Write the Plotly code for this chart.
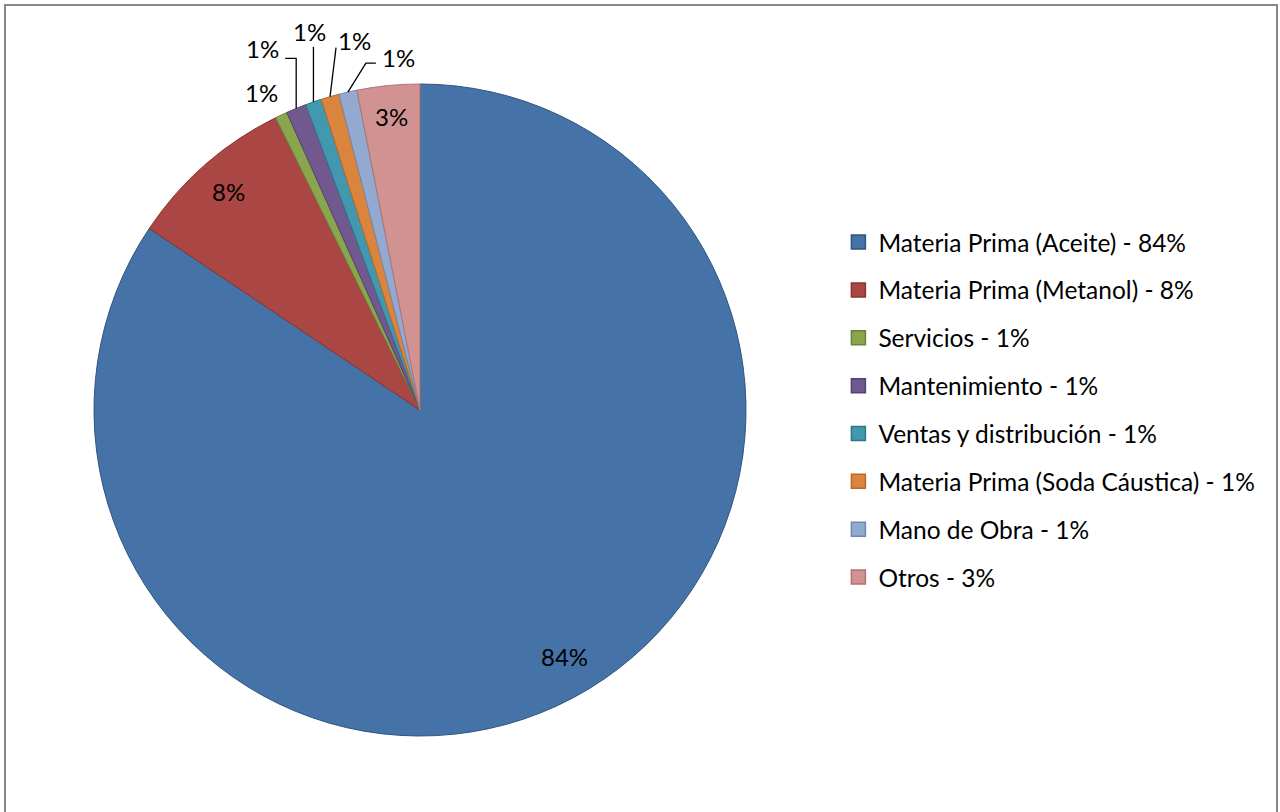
import math
import plotly.graph_objects as go

categories = ["Materia Prima (Aceite)", "Materia Prima (Metanol)", "Servicios",
              "Mantenimiento", "Ventas y distribución", "Materia Prima (Soda Cáustica)",
              "Mano de Obra", "Otros"]
values = [84.4, 8.3, 0.6, 1.0, 0.8, 0.9, 0.9, 3.1]
colors = ["#4572A7", "#AA4643", "#89A54E", "#71588F", "#4198AF", "#DB843D", "#93A9CF", "#D19392"]
edge_colors = ["#2F5480", "#8A3432", "#6B8338", "#56426F", "#2E7689", "#B86A2B", "#7088B0", "#B07372"]

# label placement style: (kind, radial fraction / offset)
# inside labels: radial fraction and small angular nudge (degrees)
inside_style = {0: (0.875, -2.3), 1: (0.89, 0.0), 7: (0.905, 0.0)}
# outside labels: label offset (px) from slice edge midpoint, leader-line style
outside_style = {
    2: ((-20, -23), None),
    3: ((-34, -60), "knee_right"),
    4: ((-4, -70), "vertical"),
    5: ((24, -56), "to_lower_left"),
    6: ((51, -35), "knee_left"),
}

FONT = "Lato, Carlito, Calibri, sans-serif"
W, H = 1280, 812
cx, cy, R = 420, 410, 326


def px(x, y):
    return x / W, 1 - y / H


fig = go.Figure()
fig.add_trace(go.Pie(
    labels=categories, values=values, sort=False, direction="clockwise", rotation=0,
    marker=dict(colors=colors, line=dict(color=edge_colors, width=1)),
    textinfo="none",
    domain=dict(x=[(cx - R) / W, (cx + R) / W], y=[1 - (cy + R) / H, 1 - (cy - R) / H]),
    showlegend=False, hoverinfo="label+percent",
))

total = sum(values)
annotations = []
shapes = [dict(type="rect", xref="paper", yref="paper", x0=5 / W, x1=1277 / W,
               y0=-0.02, y1=1 - 5 / H, line=dict(color="#878787", width=2), layer="below")]
cum = 0.0
for i, v in enumerate(values):
    mid = (cum + v / 2) / total * 360
    cum += v
    pct = f"{round(v / total * 100)}%"
    if i in inside_style:
        rf, nudge = inside_style[i]
        a = math.radians(mid + nudge)
        lx, ly = cx + rf * R * math.sin(a), cy - rf * R * math.cos(a)
    else:
        a = math.radians(mid)
        ex, ey = cx + R * math.sin(a), cy - R * math.cos(a)
        (dx, dy), mode = outside_style[i]
        lx, ly = ex + dx, ey + dy
        pts = None
        if mode == "knee_right":
            pts = [(ex, ey), (ex, ly + 10), (lx + 23, ly + 10)]
        elif mode == "vertical":
            pts = [(ex, ey), (ex, ly + 15)]
        elif mode == "to_lower_left":
            pts = [(ex, ey), (lx - 18, ly + 7)]
        elif mode == "knee_left":
            pts = [(ex, ey), (lx - 33, ly + 6), (lx - 23, ly + 6)]
        if pts:
            path = "M " + " L ".join(f"{px(x, y)[0]},{px(x, y)[1]}" for x, y in pts)
            shapes.append(dict(type="path", xref="paper", yref="paper", path=path,
                               line=dict(color="black", width=1.3)))
    X, Y = px(lx, ly)
    annotations.append(dict(x=X, y=Y, xref="paper", yref="paper", text=pct, showarrow=False,
                            xanchor="center", yanchor="middle",
                            font=dict(family=FONT, size=24, color="black")))

for cat, v, c, ec in zip(categories, values, colors, edge_colors):
    fig.add_trace(go.Scatter(
        x=[None], y=[None], mode="markers", name=f"{cat} - {round(v / total * 100)}%",
        legendgroup=cat, hoverinfo="skip",
        marker=dict(symbol="square", size=14, color=c, line=dict(color=ec, width=1.5)),
    ))

fig.update_layout(
    width=W, height=H, margin=dict(l=0, r=0, t=0, b=0, autoexpand=False),
    paper_bgcolor="white", plot_bgcolor="white",
    xaxis=dict(visible=False), yaxis=dict(visible=False),
    legend=dict(x=0.655, xanchor="left", y=0.4955, yanchor="middle",
                font=dict(family=FONT, size=24.5, color="black"),
                tracegroupgap=13, itemsizing="trace", bgcolor="rgba(0,0,0,0)"),
    annotations=annotations, shapes=shapes,
)

fig.write_html("out.html")
